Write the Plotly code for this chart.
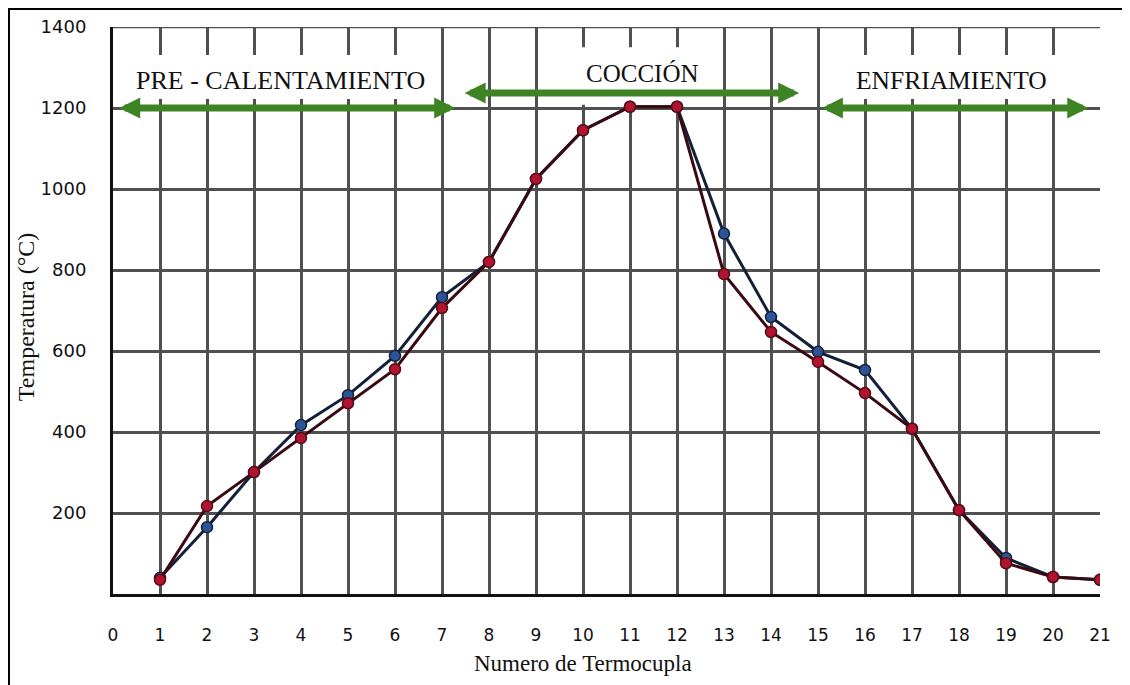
import plotly.graph_objects as go

termocupla = list(range(1, 22))
serie_azul = [40, 165, 301, 417, 491, 588, 733, 820, 1025, 1145, 1203, 1203, 890, 684, 598, 553, 408, 207, 89, 42, 35]
serie_roja = [35, 217, 301, 385, 471, 555, 706, 820, 1025, 1145, 1203, 1203, 790, 647, 573, 496, 408, 207, 76, 42, 35]
x_ticks = list(range(0, 22))
y_ticks = [200, 400, 600, 800, 1000, 1200, 1400]

fases = ["PRE - CALENTAMIENTO", "COCCIÓN", "ENFRIAMIENTO"]
fase_x_ini = [0.1, 7.45, 15.05]
fase_x_fin = [7.28, 14.6, 20.75]
fase_y = [1200, 1237, 1200]
fase_texto_x = [3.57, 11.26, 17.85]
fase_texto_y = [1269, 1286, 1269]
fase_font = [26, 25, 25.5]

fig = go.Figure()
fig.add_trace(go.Scatter(
    x=termocupla, y=serie_azul, mode="lines+markers",
    line=dict(color="#14203a", width=3),
    marker=dict(color="#2c5597", size=11, line=dict(color="#14203a", width=1.5)),
    showlegend=False))
fig.add_trace(go.Scatter(
    x=termocupla, y=serie_roja, mode="lines+markers",
    line=dict(color="#3a0a12", width=3),
    marker=dict(color="#b0142e", size=11, line=dict(color="#5a0a18", width=1.5)),
    showlegend=False))

serif = "Liberation Serif"
grid = "#505050"

# top border gridline at 1400
fig.add_shape(type="line", xref="x", yref="y", x0=0, x1=21, y0=1400, y1=1400,
              line=dict(color=grid, width=2.5), layer="between")

# white boxes behind phase labels (between gridlines and traces)
boxes = [(0.05, 6.95, 1222, 1331), (9.5, 12.9, 1208, 1350), (15.36, 20.68, 1222, 1331)]
for x0, x1, y0, y1 in boxes:
    fig.add_shape(type="rect", xref="x", yref="y", x0=x0, x1=x1, y0=y0, y1=y1,
                  fillcolor="white", line=dict(width=0), layer="between")

for i, name in enumerate(fases):
    fig.add_annotation(x=fase_x_fin[i], y=fase_y[i], ax=fase_x_ini[i], ay=fase_y[i],
                       xref="x", yref="y", axref="x", ayref="y", text="",
                       showarrow=True, arrowside="end+start", arrowhead=2,
                       arrowsize=0.6, arrowwidth=7, arrowcolor="#3f8424")
    fig.add_annotation(x=fase_texto_x[i], y=fase_texto_y[i], xref="x", yref="y",
                       text=name, showarrow=False,
                       font=dict(family=serif, size=fase_font[i], color="#111"))

# axis titles
fig.add_annotation(x=0.476, y=-0.1217, xref="paper", yref="paper", text="Numero de Termocupla",
                   showarrow=False, xanchor="center", yanchor="middle",
                   font=dict(family=serif, size=23, color="#111"))
fig.add_annotation(x=-0.088, y=0.4885, xref="paper", yref="paper", text="Temperatura (°C)",
                   showarrow=False, xanchor="center", yanchor="middle", textangle=-90,
                   font=dict(family=serif, size=24, color="#111"))

# outer frame
fig.add_shape(type="rect", xref="paper", yref="paper", x0=-0.1054, x1=1.1, y0=-0.3, y1=1.0317,
              line=dict(color="black", width=2), fillcolor="rgba(0,0,0,0)", layer="above")

fig.update_layout(
    width=1130, height=685,
    margin=dict(l=105, r=38, t=19, b=99, autoexpand=False),
    paper_bgcolor="white", plot_bgcolor="white",
    xaxis=dict(range=[0, 21], tickvals=x_ticks, ticktext=[str(v) for v in x_ticks],
               showgrid=True, gridcolor=grid, gridwidth=2.5, zeroline=False,
               showline=True, linecolor="#111", linewidth=3,
               ticks="outside", ticklen=24, tickcolor="rgba(0,0,0,0)",
               tickfont=dict(family="DejaVu Sans", size=17, color="#111")),
    yaxis=dict(range=[0, 1400], tickvals=y_ticks, ticktext=[str(v) for v in y_ticks],
               showgrid=True, gridcolor=grid, gridwidth=2.5, zeroline=False,
               showline=True, linecolor="#111", linewidth=3,
               ticks="outside", ticklen=20, tickcolor="rgba(0,0,0,0)",
               tickfont=dict(family="DejaVu Sans", size=18, color="#111")),
)

fig.write_html("out.html")
